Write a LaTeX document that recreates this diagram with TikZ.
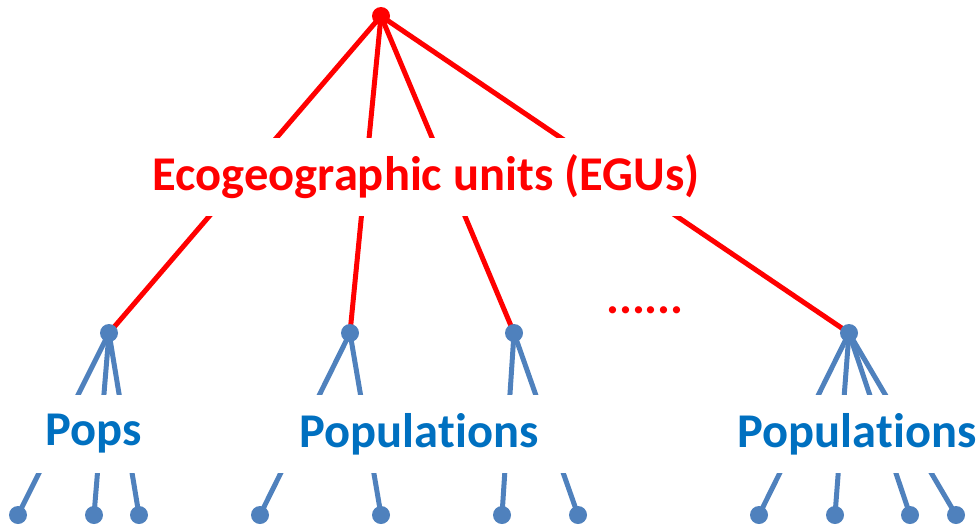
\documentclass[tikz,border=0pt]{standalone}
\usepackage{fontspec}
\setmainfont{Carlito}[Ligatures=NoCommon]
\usetikzlibrary{backgrounds}
\definecolor{egured}{RGB}{255,0,0}
\definecolor{popline}{RGB}{79,129,189}
\definecolor{poptext}{RGB}{0,112,192}

\begin{document}
\begin{tikzpicture}[x=1pt,y=-1pt,
  dot/.style={circle,inner sep=0pt,minimum size=18pt},
  rootdot/.style={dot,fill=egured},
  popdot/.style={dot,fill=popline},
  egulink/.style={draw=egured,line width=5pt},
  poplink/.style={draw=popline,line width=5pt},
  tierfont/.style={font=\fontsize{48.5}{54}\selectfont\bfseries},
  tierlabel/.style={tierfont,fill=white,inner xsep=31pt,inner ysep=0pt,minimum height=78pt}]
\useasboundingbox (0,0) rectangle (977,528);

% root of the hierarchy
\node[rootdot] (root) at (381,16) {};

% ecogeographic units
\node[popdot] (u1) at (109,333) {};
\node[popdot] (u2) at (350,333) {};
\node[popdot] (u3) at (514,333) {};
\node[popdot] (u4) at (849,333) {};

% populations
\node[popdot] (p1) at (18,515) {};
\node[popdot] (p2) at (94,515) {};
\node[popdot] (p3) at (139,515) {};
\node[popdot] (p4) at (260,515) {};
\node[popdot] (p5) at (381,515) {};
\node[popdot] (p6) at (502,515) {};
\node[popdot] (p7) at (578,515) {};
\node[popdot] (p8) at (759,515) {};
\node[popdot] (p9) at (835,515) {};
\node[popdot] (p10) at (910,515) {};
\node[popdot] (p11) at (956,515) {};

% links, kept beneath the dots and the labels
\begin{scope}[on background layer]
  \foreach \u in {u1,u2,u3,u4}
    \draw[egulink] (root.center) -- (\u.center);
  \foreach \p in {p1,p2,p3}
    \draw[poplink] (u1.center) -- (\p.center);
  \foreach \p in {p4,p5}
    \draw[poplink] (u2.center) -- (\p.center);
  \foreach \p in {p6,p7}
    \draw[poplink] (u3.center) -- (\p.center);
  \foreach \p in {p8,p9,p10,p11}
    \draw[poplink] (u4.center) -- (\p.center);
\end{scope}

% level labels, their white boxes break the links
\node[tierlabel,text=egured] (egus) at (426,177) {Ecogeographic units (EGUs)};
\node[tierlabel,text=poptext] (pops) at (94,434) {Pops};
\node[tierlabel,text=poptext] (popsA) at (419,434) {Populations};
\node[tierlabel,text=poptext] (popsB) at (857,434) {Populations};

% further units left out
\node[tierfont,text=egured,anchor=base] (more) at (645,313) {......};
\end{tikzpicture}
\end{document}
